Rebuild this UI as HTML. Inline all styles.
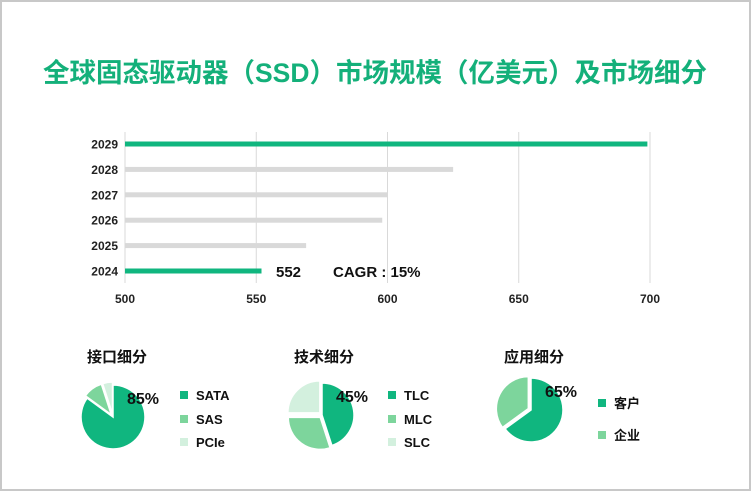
<!DOCTYPE html>
<html><head><meta charset="utf-8"><style>
body{margin:0;background:#fff}
svg{display:block;font-family:"Liberation Sans","Noto Sans CJK SC",sans-serif}
</style></head><body>
<svg id="s" width="751" height="491" viewBox="0 0 751 491">
<rect x="1" y="1" width="749" height="489" fill="#fff" stroke="#c8c8c8" stroke-width="2"/>
<text x="375" y="82" text-anchor="middle" font-size="26.5" font-weight="bold" fill="#14b07a">全球固态驱动器（SSD）市场规模（亿美元）及市场细分</text>
<g id="bars"></g>
<g id="pies"></g>
</svg>
<script>
const years=["2029","2028","2027","2026","2025","2024"];
const values=[699,625,600,598,569,552];
const highlight=[true,false,false,false,false,true];
const xTicks=[500,550,600,650,700];
const pieTitles=["接口细分","技术细分","应用细分"];
const pieLabels=[["SATA","SAS","PCIe"],["TLC","MLC","SLC"],["客户","企业"]];
const pieValues=[[85,10,5],[45,30,25],[65,35]];
const pieColors=["#10b67f","#7dd59c","#d3f0de"];
const NS="http://www.w3.org/2000/svg";
function mk(t,a,p){const e=document.createElementNS(NS,t);for(const k in a)e.setAttribute(k,a[k]);p.appendChild(e);return e;}
const x=v=>125+(v-500)*(650-125)/200;
const y=i=>144+i*25.4;
const g=document.getElementById('bars');
xTicks.forEach(t=>{
  const l=mk('line',{x1:x(t),x2:x(t),y1:132,y2:283,stroke:'#d9d9d9','stroke-width':1},g);
  
  
  const tx=mk('text',{x:x(t),y:303,'text-anchor':'middle','font-size':12,'font-weight':'bold',fill:'#222'},g);
  tx.textContent=t;
  
  
});
const ax=mk('line',{x1:125,x2:125,y1:132,y2:283,stroke:'#d9d9d9'},g);


years.forEach((yr,i)=>{
  const r=mk('rect',{x:125,y:y(i)-2.5,width:x(values[i])-125,height:5,fill:highlight[i]?'#10b67f':'#d9d9d9'},g);
  
  
  const t=mk('text',{x:118,y:y(i)+4.5,'text-anchor':'end','font-size':12,'font-weight':'bold',fill:'#222'},g);
  t.textContent=yr;
  
  
});
const v=mk('text',{x:276,y:y(5)+6,'font-size':15,'font-weight':'bold',fill:'#111'},g);
v.textContent=values[5];


const c=mk('text',{x:333,y:y(5)+6,'font-size':15,'font-weight':'bold',fill:'#111'},g);
c.textContent="CAGR : 15%";


const pg=document.getElementById('pies');
const cx=[113,322,531],cy=[417,415,410],tx=[87,294,504],lx=[180,388,598];
const legY=[[396,420,443],[396,420,443],[404,436]];
pieValues.forEach((vals,p)=>{
  const t=mk('text',{x:tx[p],y:362,'font-size':15,'font-weight':'bold',fill:'#111'},pg);
  t.textContent=pieTitles[p];
  
  
  const tot=vals.reduce((a,b)=>a+b,0);let a0=0;const r=32;
  vals.forEach((val,i)=>{
    const a1=a0+val/tot*2*Math.PI;const mid=(a0+a1)/2;
    const off=i===0?0:3;
    const ox=cx[p]+off*Math.sin(mid),oy=cy[p]-off*Math.cos(mid);
    const large=(a1-a0)>Math.PI?1:0;
    const d=`M${ox},${oy}L${ox+r*Math.sin(a0)},${oy-r*Math.cos(a0)}A${r},${r} 0 ${large} 1 ${ox+r*Math.sin(a1)},${oy-r*Math.cos(a1)}Z`;
    const s=mk('path',{d:d,fill:pieColors[i],stroke:'#fff','stroke-width':1.5},pg);
    
    
    a0=a1;
  });
  const pc=mk('text',{x:cx[p]+14,y:cy[p]-13,'font-size':16,'font-weight':'bold',fill:'#111'},pg);
  pc.textContent=vals[0]+'%';
  
  
  pieLabels[p].forEach((lab,i)=>{
    const sq=mk('rect',{x:lx[p],y:legY[p][i]-5,width:8,height:8,fill:pieColors[i]},pg);
    
    
    const lt=mk('text',{x:lx[p]+16,y:legY[p][i]+4,'font-size':13,'font-weight':'bold',fill:'#111'},pg);
    lt.textContent=lab;
    
    
  });
});
</script>
</body></html>
